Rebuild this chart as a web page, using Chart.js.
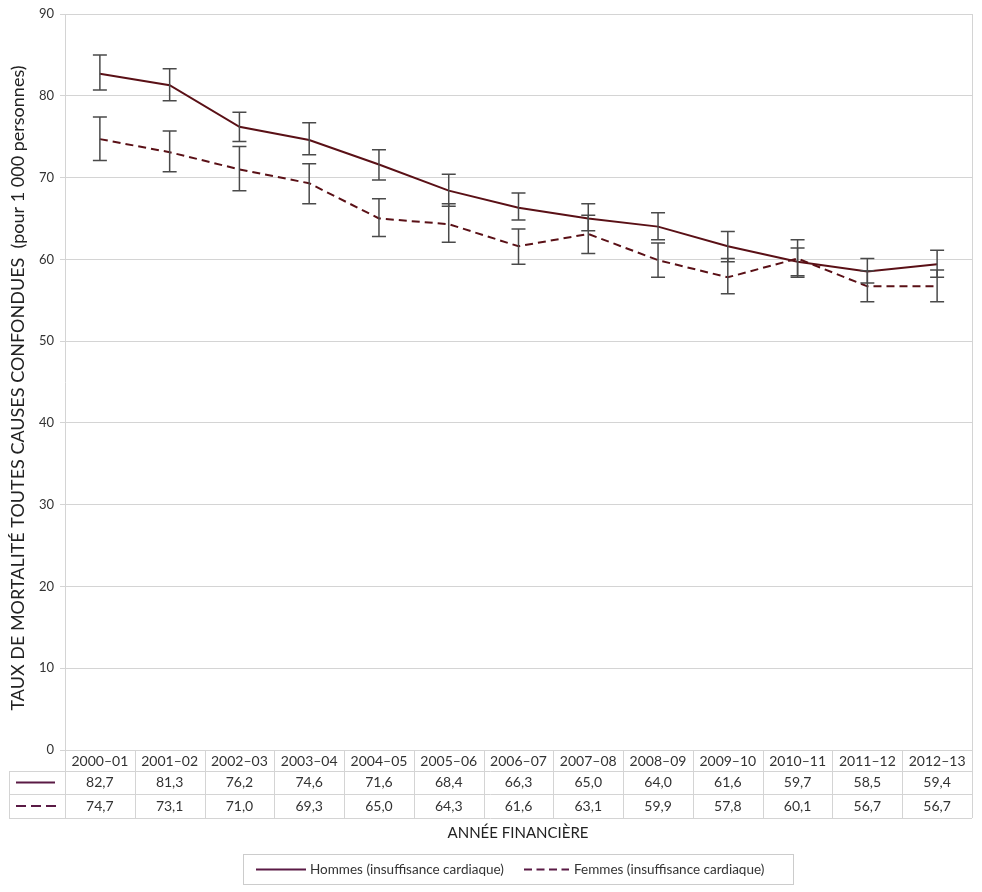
<!DOCTYPE html>
<html>
<head>
<meta charset="utf-8">
<script src="https://cdn.jsdelivr.net/npm/chart.js@4.4.0/dist/chart.umd.min.js"></script>
<style>
  body { margin: 0; background: #fff; }
  #wrap { width: 982px; height: 892px; }
</style>
</head>
<body>
<div id="wrap"><canvas id="mortChart" width="982" height="892"></canvas></div>
<script>
// data
const years = ['2000–01', '2001–02', '2002–03', '2003–04', '2004–05', '2005–06', '2006–07',
               '2007–08', '2008–09', '2009–10', '2010–11', '2011–12', '2012–13'];
const hommes = [82.7, 81.3, 76.2, 74.6, 71.6, 68.4, 66.3, 65.0, 64.0, 61.6, 59.7, 58.5, 59.4];
const femmes = [74.7, 73.1, 71.0, 69.3, 65.0, 64.3, 61.6, 63.1, 59.9, 57.8, 60.1, 56.7, 56.7];
const hommesLow  = [80.7, 79.4, 74.4, 72.8, 69.7, 66.5, 64.8, 63.5, 62.4, 59.7, 58.0, 57.1, 57.8];
const hommesHigh = [85.0, 83.3, 78.0, 76.7, 73.4, 70.4, 68.1, 66.8, 65.7, 63.4, 61.4, 60.1, 61.1];
const femmesLow  = [72.1, 70.7, 68.4, 66.8, 62.8, 62.1, 59.4, 60.7, 57.8, 55.8, 57.8, 54.8, 54.8];
const femmesHigh = [77.4, 75.7, 73.8, 71.7, 67.4, 66.8, 63.7, 65.4, 62.0, 60.1, 62.4, 58.6, 58.7];

const lineColor = '#5a1016';
const keyColor = '#5a1a45';
const FONT = 'Lato, "Noto Sans", sans-serif';

function fmt(v) { return v.toFixed(1).replace('.', ','); }

// error bars + data table + legend box, drawn from the chart's own scales
const extras = {
  id: 'extras',
  afterDatasetsDraw(chart) {
    const { ctx, scales: { x, y } } = chart;
    const bars = [[hommesLow, hommesHigh], [femmesLow, femmesHigh]];
    ctx.save();
    ctx.strokeStyle = '#4a4a4a';
    ctx.lineWidth = 1.5;
    bars.forEach(([lo, hi]) => {
      lo.forEach((v, i) => {
        const px = x.getPixelForValue(i);
        const y1 = y.getPixelForValue(v), y2 = y.getPixelForValue(hi[i]);
        ctx.beginPath();
        ctx.moveTo(px, y1); ctx.lineTo(px, y2);
        ctx.moveTo(px - 7, y1); ctx.lineTo(px + 7, y1);
        ctx.moveTo(px - 7, y2); ctx.lineTo(px + 7, y2);
        ctx.stroke();
      });
    });
    ctx.restore();
  },
  afterDraw(chart) {
    const { ctx, chartArea: ca, scales: { x } } = chart;
    ctx.save();
    // right border of plot
    ctx.strokeStyle = '#d4d4d4';
    ctx.lineWidth = 1;
    ctx.beginPath();
    ctx.moveTo(ca.right + 0.5, ca.top); ctx.lineTo(ca.right + 0.5, ca.bottom);
    ctx.stroke();

    // y axis title
    ctx.save();
    ctx.translate(18, 388);
    ctx.rotate(-Math.PI / 2);
    ctx.fillStyle = '#222';
    ctx.font = '18px ' + FONT;
    ctx.textAlign = 'center';
    ctx.textBaseline = 'middle';
    ctx.fillText('TAUX DE MORTALITÉ TOUTES CAUSES CONFONDUES  (pour 1 000 personnes)', 0, 0);
    ctx.restore();

    // data table
    const half = (x.getPixelForValue(1) - x.getPixelForValue(0)) / 2;
    const rowTop = [ca.bottom, ca.bottom + 21, ca.bottom + 44, ca.bottom + 68];
    const tableLeft = 9;
    ctx.strokeStyle = '#d4d4d4';
    ctx.beginPath();
    ctx.moveTo(ca.left, rowTop[0] + 0.5); ctx.lineTo(ca.right, rowTop[0] + 0.5);
    for (let r = 1; r < 4; r++) {
      ctx.moveTo(tableLeft, rowTop[r] + 0.5); ctx.lineTo(ca.right, rowTop[r] + 0.5);
    }
    ctx.moveTo(tableLeft + 0.5, rowTop[1]); ctx.lineTo(tableLeft + 0.5, rowTop[3]);
    for (let i = 0; i <= years.length; i++) {
      const bx = Math.round(x.getPixelForValue(i) - half) + 0.5;
      ctx.moveTo(bx, rowTop[0]); ctx.lineTo(bx, rowTop[3]);
    }
    ctx.stroke();

    ctx.fillStyle = '#333';
    ctx.font = '14px ' + FONT;
    ctx.textAlign = 'center';
    ctx.textBaseline = 'middle';
    years.forEach((lab, i) => {
      const cx = x.getPixelForValue(i);
      ctx.fillText(lab, cx, (rowTop[0] + rowTop[1]) / 2 + 1);
      ctx.fillText(fmt(hommes[i]), cx, (rowTop[1] + rowTop[2]) / 2);
      ctx.fillText(fmt(femmes[i]), cx, (rowTop[2] + rowTop[3]) / 2);
    });

    // series keys in first column
    ctx.strokeStyle = keyColor;
    ctx.lineWidth = 2;
    ctx.beginPath();
    ctx.moveTo(16, (rowTop[1] + rowTop[2]) / 2); ctx.lineTo(55, (rowTop[1] + rowTop[2]) / 2);
    ctx.stroke();
    ctx.setLineDash([10, 5]);
    ctx.beginPath();
    ctx.moveTo(16, (rowTop[2] + rowTop[3]) / 2); ctx.lineTo(56, (rowTop[2] + rowTop[3]) / 2);
    ctx.stroke();
    ctx.setLineDash([]);

    // x axis title
    ctx.fillStyle = '#222';
    ctx.font = '15px ' + FONT;
    ctx.fillText('ANNÉE FINANCIÈRE', 518, 833);

    // legend box
    ctx.strokeStyle = '#cccccc';
    ctx.lineWidth = 1;
    ctx.strokeRect(243.5, 854.5, 550, 30);
    const ds = chart.data.datasets;
    const items = [{ x0: 256, x1: 306, tx: 310 }, { x0: 524, x1: 569, tx: 574 }];
    ctx.font = '13.5px ' + FONT;
    ctx.textAlign = 'left';
    items.forEach((it, k) => {
      ctx.strokeStyle = keyColor;
      ctx.lineWidth = 2;
      ctx.setLineDash(k === 1 ? [8, 4.5] : []);
      ctx.beginPath();
      ctx.moveTo(it.x0, 869.5); ctx.lineTo(it.x1, 869.5);
      ctx.stroke();
      ctx.setLineDash([]);
      ctx.fillStyle = '#333';
      ctx.fillText(ds[k].label, it.tx, 870);
    });
    ctx.restore();
  }
};

const ctx = document.getElementById('mortChart').getContext('2d');
const mortChart = new Chart(ctx, {
  type: 'line',
  data: {
    labels: years,
    datasets: [
      {
        label: 'Hommes (insuffisance cardiaque)',
        data: hommes,
        borderColor: lineColor,
        borderWidth: 2,
        pointRadius: 0,
        tension: 0,
        fill: false
      },
      {
        label: 'Femmes (insuffisance cardiaque)',
        data: femmes,
        borderColor: lineColor,
        borderWidth: 2,
        borderDash: [8, 5],
        pointRadius: 0,
        tension: 0,
        fill: false
      }
    ]
  },
  options: {
    responsive: false,
    animation: false,
    layout: { padding: { top: 14, right: 10, bottom: 142, left: 8 } },
    plugins: {
      legend: { display: false },
      tooltip: { enabled: false }
    },
    scales: {
      x: {
        offset: true,
        grid: { display: false },
        border: { display: false },
        ticks: { display: false },
        afterFit(scale) { scale.height = 0; }
      },
      y: {
        min: 0,
        max: 90,
        ticks: { stepSize: 10, color: '#333', font: { size: 13, family: FONT }, padding: 6 },
        grid: { color: '#d4d4d4', tickLength: 5 },
        border: { color: '#d4d4d4' },
        afterFit(scale) { scale.width = 57; }
      }
    }
  },
  plugins: [extras]
});
</script>
</body>
</html>
